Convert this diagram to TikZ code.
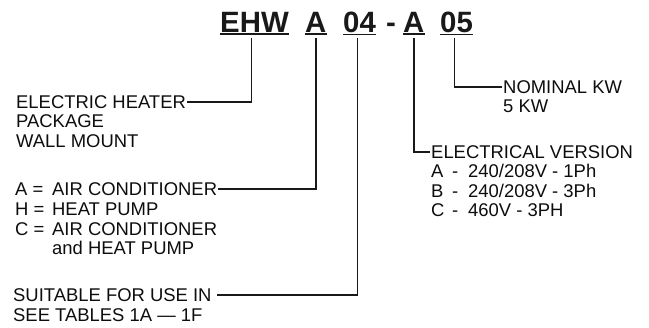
\documentclass[tikz,border=0pt]{standalone}
\usepackage{fontspec}
\setmainfont{Liberation Sans}
\usetikzlibrary{positioning}
\tikzset{
	code/.style={anchor=base west, inner xsep=0pt, inner ysep=2bp, text=black!90, font=\bfseries\fontsize{29.5}{30}\selectfont,
		append after command={(\tikzlastnode.south west) edge[line width=1.8bp, black!90] (\tikzlastnode.south east)}},
	hyph/.style={anchor=base west, inner sep=0pt, text=black!90, font=\bfseries\fontsize{29.5}{30}\selectfont},
	% plain caption text, placed by its baseline
	txt/.style={anchor=base west, inner xsep=1bp, inner ysep=0pt, text=black!95, font=\fontsize{18.5}{20}\selectfont},
}

\begin{document}
\begin{tikzpicture}[x=1bp, y=-1bp]
	\useasboundingbox (0,0) rectangle (649,327);
	
	% model code
	\node (ehw) [code] at (220,32) {EHW};
	\node (family) [code] at (305,32) {A};
	\node (size) [code] at (343,32) {04};
	\node (dash) [hyph] at (386,32) {-};
	\node (volt) [code] at (403,32) {A};
	\node (kw) [code] at (440,32) {05};
	
	\node (heater) [txt] at (15,108) {ELECTRIC HEATER};
	\node (package) [txt] at (15,127.5) {PACKAGE};
	\node (mount) [txt] at (15,147) {WALL MOUNT};
	
	\node (typeA) [txt] at (14,195) {\makebox[37bp][l]{A =}AIR CONDITIONER};
	\node (typeH) [txt] at (14,215) {\makebox[37bp][l]{H =}HEAT PUMP};
	\node (typeC) [txt] at (14,235) {\makebox[37bp][l]{C =}AIR CONDITIONER};
	\node (typeC2) [txt] at (14,254) {\makebox[37bp][l]{}and HEAT PUMP};
	
	\node (suit) [txt] at (12,301) {SUITABLE FOR USE IN};
	\node (tables) [txt] at (12,321.5) {SEE TABLES 1A — 1F};
	
	\node (elec) [txt] at (430,158) {ELECTRICAL VERSION};
	\node (elecA) [txt] at (430,177) {\makebox[21bp][l]{A}\makebox[16bp][l]{-}240/208V - 1Ph};
	\node (elecB) [txt] at (430,197) {\makebox[21bp][l]{B}\makebox[16bp][l]{-}240/208V - 3Ph};
	\node (elecC) [txt] at (430,216) {\makebox[21bp][l]{C}\makebox[16bp][l]{-}460V - 3PH};
	
	\node (nominal) [txt] at (502,93) {NOMINAL KW};
	\node (kwval) [txt] at (502,112) {5 KW};
	
	\begin{scope}[line width=1.8bp, black!90, shorten <=4bp]
		\draw ([xshift=-3bp]ehw.south) |- (heater.east);
		\draw (family.south) |- (typeA.east);
		\draw[shorten >=4bp] ([xshift=-2bp]size.south) |- (suit.east);
		\draw (volt.south) |- (elec.west);
		\draw ([xshift=-2bp]kw.south) |- (nominal.west);
	\end{scope}
	
\end{tikzpicture}
\end{document}
